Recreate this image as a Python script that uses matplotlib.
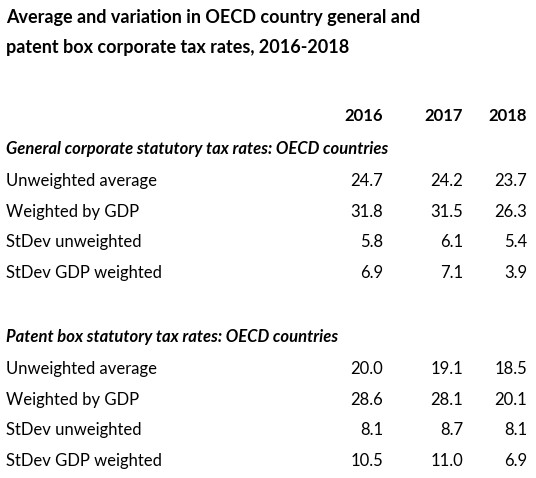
import matplotlib.pyplot as plt

years = ['2016', '2017', '2018']
row_labels = ['Unweighted average', 'Weighted by GDP', 'StDev unweighted', 'StDev GDP weighted']
general_vals = [[24.7, 24.2, 23.7], [31.8, 31.5, 26.3], [5.8, 6.1, 5.4], [6.9, 7.1, 3.9]]
patent_vals = [[20.0, 19.1, 18.5], [28.6, 28.1, 20.1], [8.1, 8.7, 8.1], [10.5, 11.0, 6.9]]

W, H = 536, 478
fig = plt.figure(figsize=(W / 100, H / 100), dpi=100)
plt.rcParams['font.family'] = ['Lato', 'DejaVu Sans']

def t(x, y, s, size=12, **kw):
    fig.text(x / W, 1 - y / H, s, va='center', fontsize=size, **kw)

t(6, 18, 'Average and variation in OECD country general and', size=13, fontweight='bold')
t(6, 48, 'patent box corporate tax rates, 2016-2018', size=13, fontweight='bold')

col_x = [383, 463, 527]
for x, yr in zip(col_x, years):
    t(x, 116, yr, fontweight='bold', ha='right')

def section(y0, title, vals):
    t(6, y0, title, fontweight='bold', style='italic')
    for i, (lab, row) in enumerate(zip(row_labels, vals)):
        y = y0 + 32 + i * 30.7
        t(6, y, lab)
        for x, v in zip(col_x, row):
            t(x, y, f'{v:.1f}', ha='right')

section(149, 'General corporate statutory tax rates: OECD countries', general_vals)
section(337, 'Patent box statutory tax rates: OECD countries', patent_vals)

fig.savefig('out.png', dpi=100)
